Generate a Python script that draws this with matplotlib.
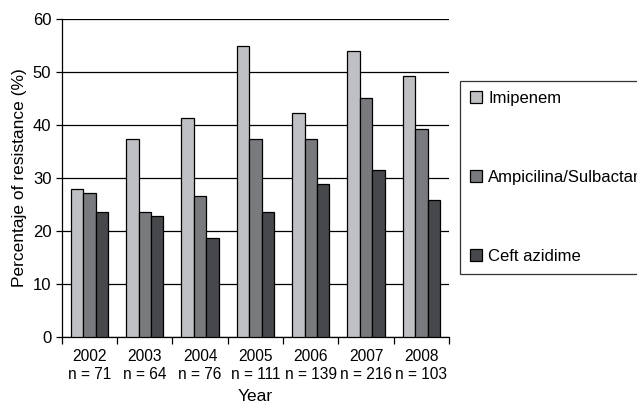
import matplotlib
matplotlib.use('Agg')
import matplotlib.pyplot as plt
import numpy as np

plt.rcParams['font.family'] = ['Liberation Sans', 'DejaVu Sans']

years = ['2002', '2003', '2004', '2005', '2006', '2007', '2008']
n_cases = [71, 64, 76, 111, 139, 216, 103]
imipenem = [27.9, 37.3, 41.4, 55.0, 42.3, 54.0, 49.2]
ampicilina = [27.1, 23.6, 26.6, 37.3, 37.3, 45.1, 39.3]
ceftazidime = [23.5, 22.8, 18.7, 23.5, 28.8, 31.6, 25.8]

series = [('Imipenem', imipenem, '#bfc0c3'),
          ('Ampicilina/Sulbactam', ampicilina, '#797a7e'),
          ('Ceft azidime', ceftazidime, '#47484b')]

fig = plt.figure(figsize=(6.37, 4.07), dpi=100)
ax = fig.add_axes([0.097, 0.172, 0.608, 0.781])

x = np.arange(len(years))
w = 0.225
handles = []
for i, (name, vals, col) in enumerate(series):
    b = ax.bar(x + (i - 1) * w, vals, w, color=col, edgecolor='black',
               linewidth=0.9, label=name, zorder=3)
    handles.append(b)

ax.set_xlim(-0.5, len(years) - 0.5)
ax.set_ylim(0, 60)
ax.set_yticks(range(0, 61, 10))
ax.yaxis.grid(True, color='black', linewidth=0.9, zorder=0)
ax.set_axisbelow(True)
for s in ['top', 'right']:
    ax.spines[s].set_visible(False)
ax.spines['left'].set_linewidth(0.9)
ax.spines['bottom'].set_linewidth(0.9)

ax.set_xticks(x)
ax.set_xticklabels(['{}\nn = {}'.format(y, n) for y, n in zip(years, n_cases)],
                   fontsize=11.2, linespacing=1.25)
ax.tick_params(axis='x', which='major', length=0, pad=9)
ax.set_xticks(np.arange(-0.5, len(years), 1), minor=True)
ax.tick_params(axis='x', which='minor', length=5, width=0.9)
ax.tick_params(axis='y', labelsize=12, length=4, width=0.9)

ax.set_ylabel('Percentaje of resistance (%)', fontsize=12.5)
ax.set_xlabel('Year', fontsize=12.5, labelpad=5)

leg = fig.legend(handles=handles, loc='upper left',
                 bbox_to_anchor=(0.722, 0.802), fontsize=12,
                 labelspacing=3.85, handlelength=0.75, handleheight=0.75,
                 handletextpad=0.35, borderpad=0.6, fancybox=False,
                 frameon=True, borderaxespad=0)
leg.get_frame().set_edgecolor('black')
leg.get_frame().set_linewidth(0.9)

fig.savefig('out.png', dpi=100)
